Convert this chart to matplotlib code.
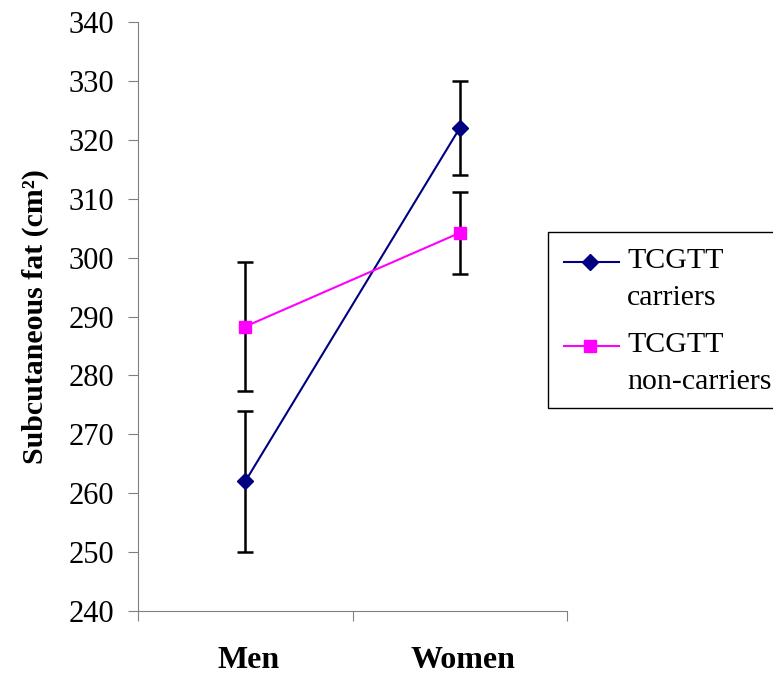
import matplotlib
matplotlib.use("Agg")
import matplotlib.pyplot as plt
from matplotlib.lines import Line2D
from matplotlib.patches import Rectangle

# data
groups = ["Men", "Women"]
carriers = [262, 322]
carriers_err = [12, 8]
noncarriers = [288.3, 304.2]
noncarriers_err = [11, 7]
yticks = list(range(240, 341, 10))
legend_labels = [("TCGTT", "carriers"), ("TCGTT", "non-carriers")]

plt.rcParams['font.family'] = ['Liberation Serif', 'DejaVu Serif']

W, H = 773, 677
fig = plt.figure(figsize=(W / 100, H / 100), dpi=100)
ax = fig.add_axes([138 / W, 1 - 611 / H, (567 - 138) / W, (611 - 22) / H])

xpos = [0.5, 1.5]
navy = '#000080'
magenta = '#FF00FF'

ax.errorbar(xpos, carriers, yerr=carriers_err, fmt='none', ecolor='black',
            elinewidth=1.8, capsize=5.5, capthick=1.8, zorder=1)
ax.errorbar(xpos, noncarriers, yerr=noncarriers_err, fmt='none', ecolor='black',
            elinewidth=1.8, capsize=5.5, capthick=1.8, zorder=1)

ax.plot(xpos, carriers, color=navy, marker='D', markersize=8, linewidth=1.5, zorder=3)
ax.plot(xpos, noncarriers, color=magenta, marker='s', markersize=8, linewidth=1.5, zorder=3)

ax.set_xlim(0, 2)
ax.set_ylim(240, 340)
ax.set_yticks(yticks)
ax.tick_params(axis='y', labelsize=22, direction='out', length=7, pad=10, color='#808080')

# category labels sit between the ticks
ax.set_xticks([0, 1, 2])
ax.set_xticklabels([])
ax.tick_params(axis='x', direction='out', length=7, color='#808080')
for x, g in zip(xpos, groups):
    ax.text(x + 0.015, -(661 - 611) / (611 - 22), g, transform=ax.get_xaxis_transform(),
            ha='center', va='center', fontsize=23, fontweight='bold')

ax.spines['top'].set_visible(False)
ax.spines['right'].set_visible(False)
ax.spines['left'].set_color('#808080')
ax.spines['bottom'].set_color('#808080')

ax.set_ylabel("Subcutaneous fat (cm²)", fontsize=21.5, fontweight='bold')
ax.yaxis.set_label_coords((49 - 138) / (567 - 138), 0.5)

# legend drawn by hand: handle sits on the first text line, like the original
fig.add_artist(Rectangle((548 / W, 1 - 408 / H), (W + 5 - 548) / W, (408 - 232) / H,
                         transform=fig.transFigure, fill=False, edgecolor='black',
                         linewidth=1.0))
rows = [(262, navy, 'D'), (346, magenta, 's')]
for (yy, col, mk), (l1, l2) in zip(rows, legend_labels):
    fig.add_artist(Line2D([564 / W, 619 / W], [1 - yy / H, 1 - yy / H],
                          transform=fig.transFigure, color=col, linewidth=1.5))
    fig.add_artist(Line2D([590 / W], [1 - yy / H], transform=fig.transFigure,
                          color=col, marker=mk, markersize=8))
    fig.text(627 / W, 1 - (yy + 6) / H, l1, fontsize=21.5, va='baseline', ha='left')
    fig.text(627 / W, 1 - (yy + 43) / H, l2, fontsize=21.5, va='baseline', ha='left')

fig.savefig("out.png", dpi=100)
